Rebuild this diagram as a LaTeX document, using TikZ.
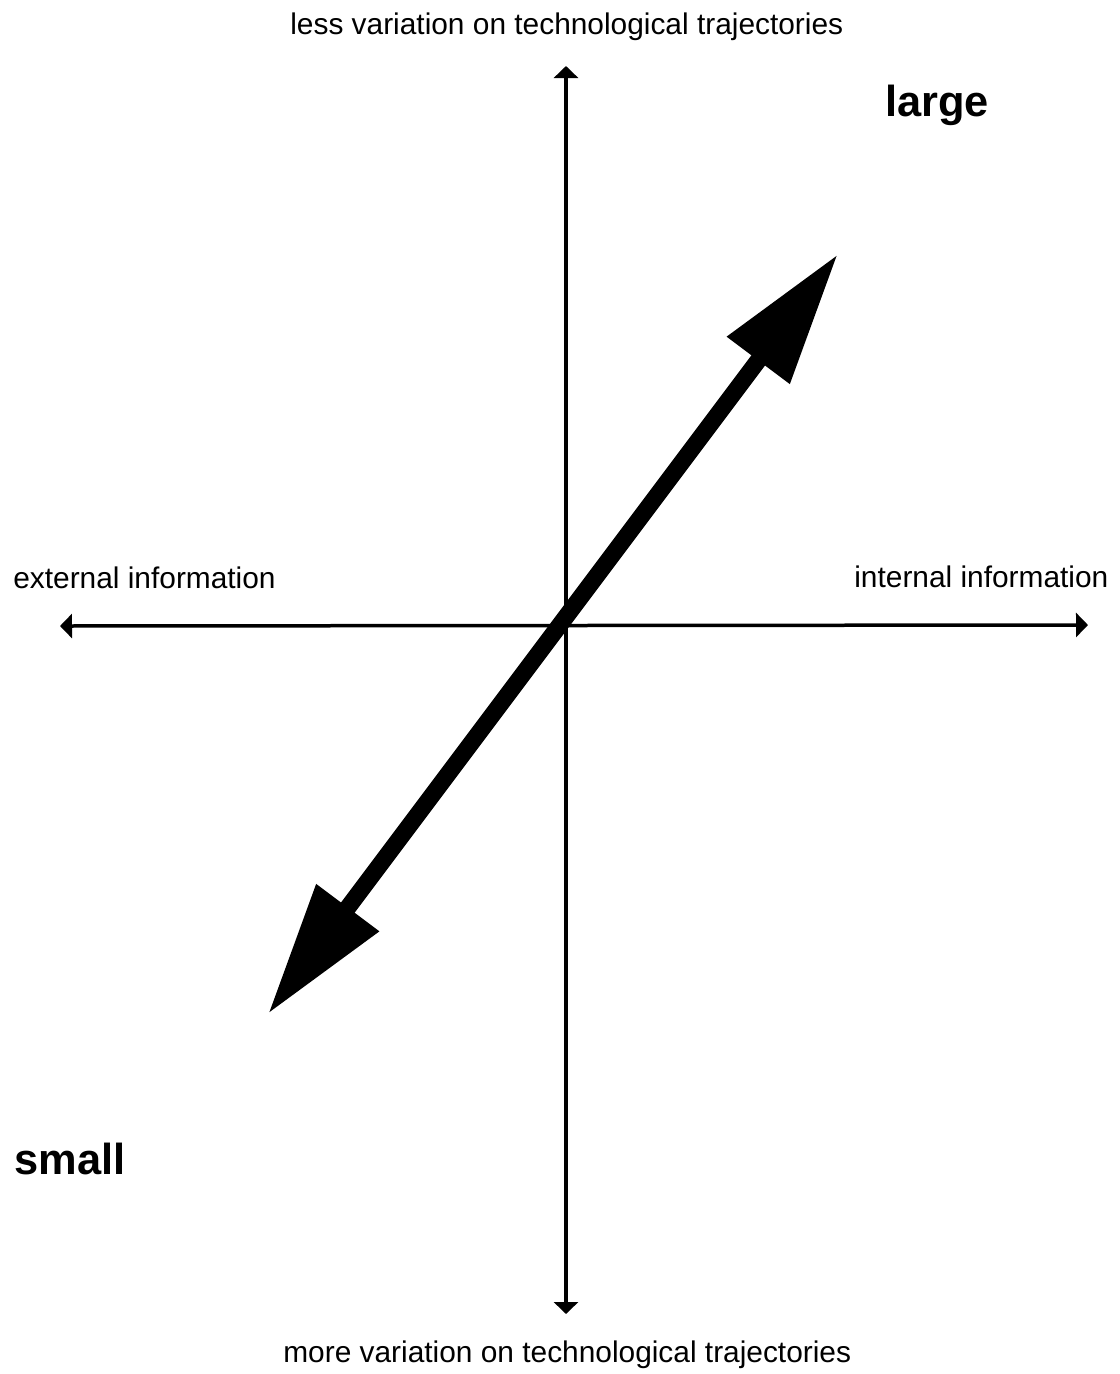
\documentclass[tikz,border=0pt]{standalone}
\usepackage{fontspec}
\setmainfont{Liberation Sans}
\usetikzlibrary{arrows.meta}

\begin{document}
\begin{tikzpicture}[
    x=0.02cm, y=-0.02cm,
    lbl/.style={anchor=base west, inner sep=0pt, font=\fontsize{17}{20}\selectfont},
    big/.style={anchor=base west, inner sep=0pt, font=\fontsize{24.7}{28}\selectfont\bfseries},
    axis/.style={{Triangle[length=0.24cm, width=0.48cm]}-{Triangle[length=0.24cm, width=0.48cm]},
                 line width=0.07cm},
    trend/.style={{Triangle[length=2.66cm, width=1.48cm]}-{Triangle[length=2.66cm, width=1.48cm]},
                  line width=0.34cm}
]
\useasboundingbox (0,0) rectangle (1120,1374);

\coordinate (top) at (566,66);
\coordinate (bot) at (566,1314);
\coordinate (lft) at (60,626);
\coordinate (rgt) at (1088,625);
\coordinate (lo) at (268,1014);
\coordinate (hi) at (838,254);

\draw[axis] (bot) -- (top);
\draw[axis] (lft) -- (rgt);
\draw[trend] (lo) -- (hi);

\node[lbl] (less) at (290,34) {less variation on technological trajectories};
\node[lbl] (more) at (283,1362) {more variation on technological trajectories};
\node[lbl] (ext) at (13,588) {external information};
\node[lbl] (int) at (854,587) {internal information};
\node[big] (large) at (885,116) {large};
\node[big] (small) at (14,1174) {small};
\end{tikzpicture}
\end{document}
